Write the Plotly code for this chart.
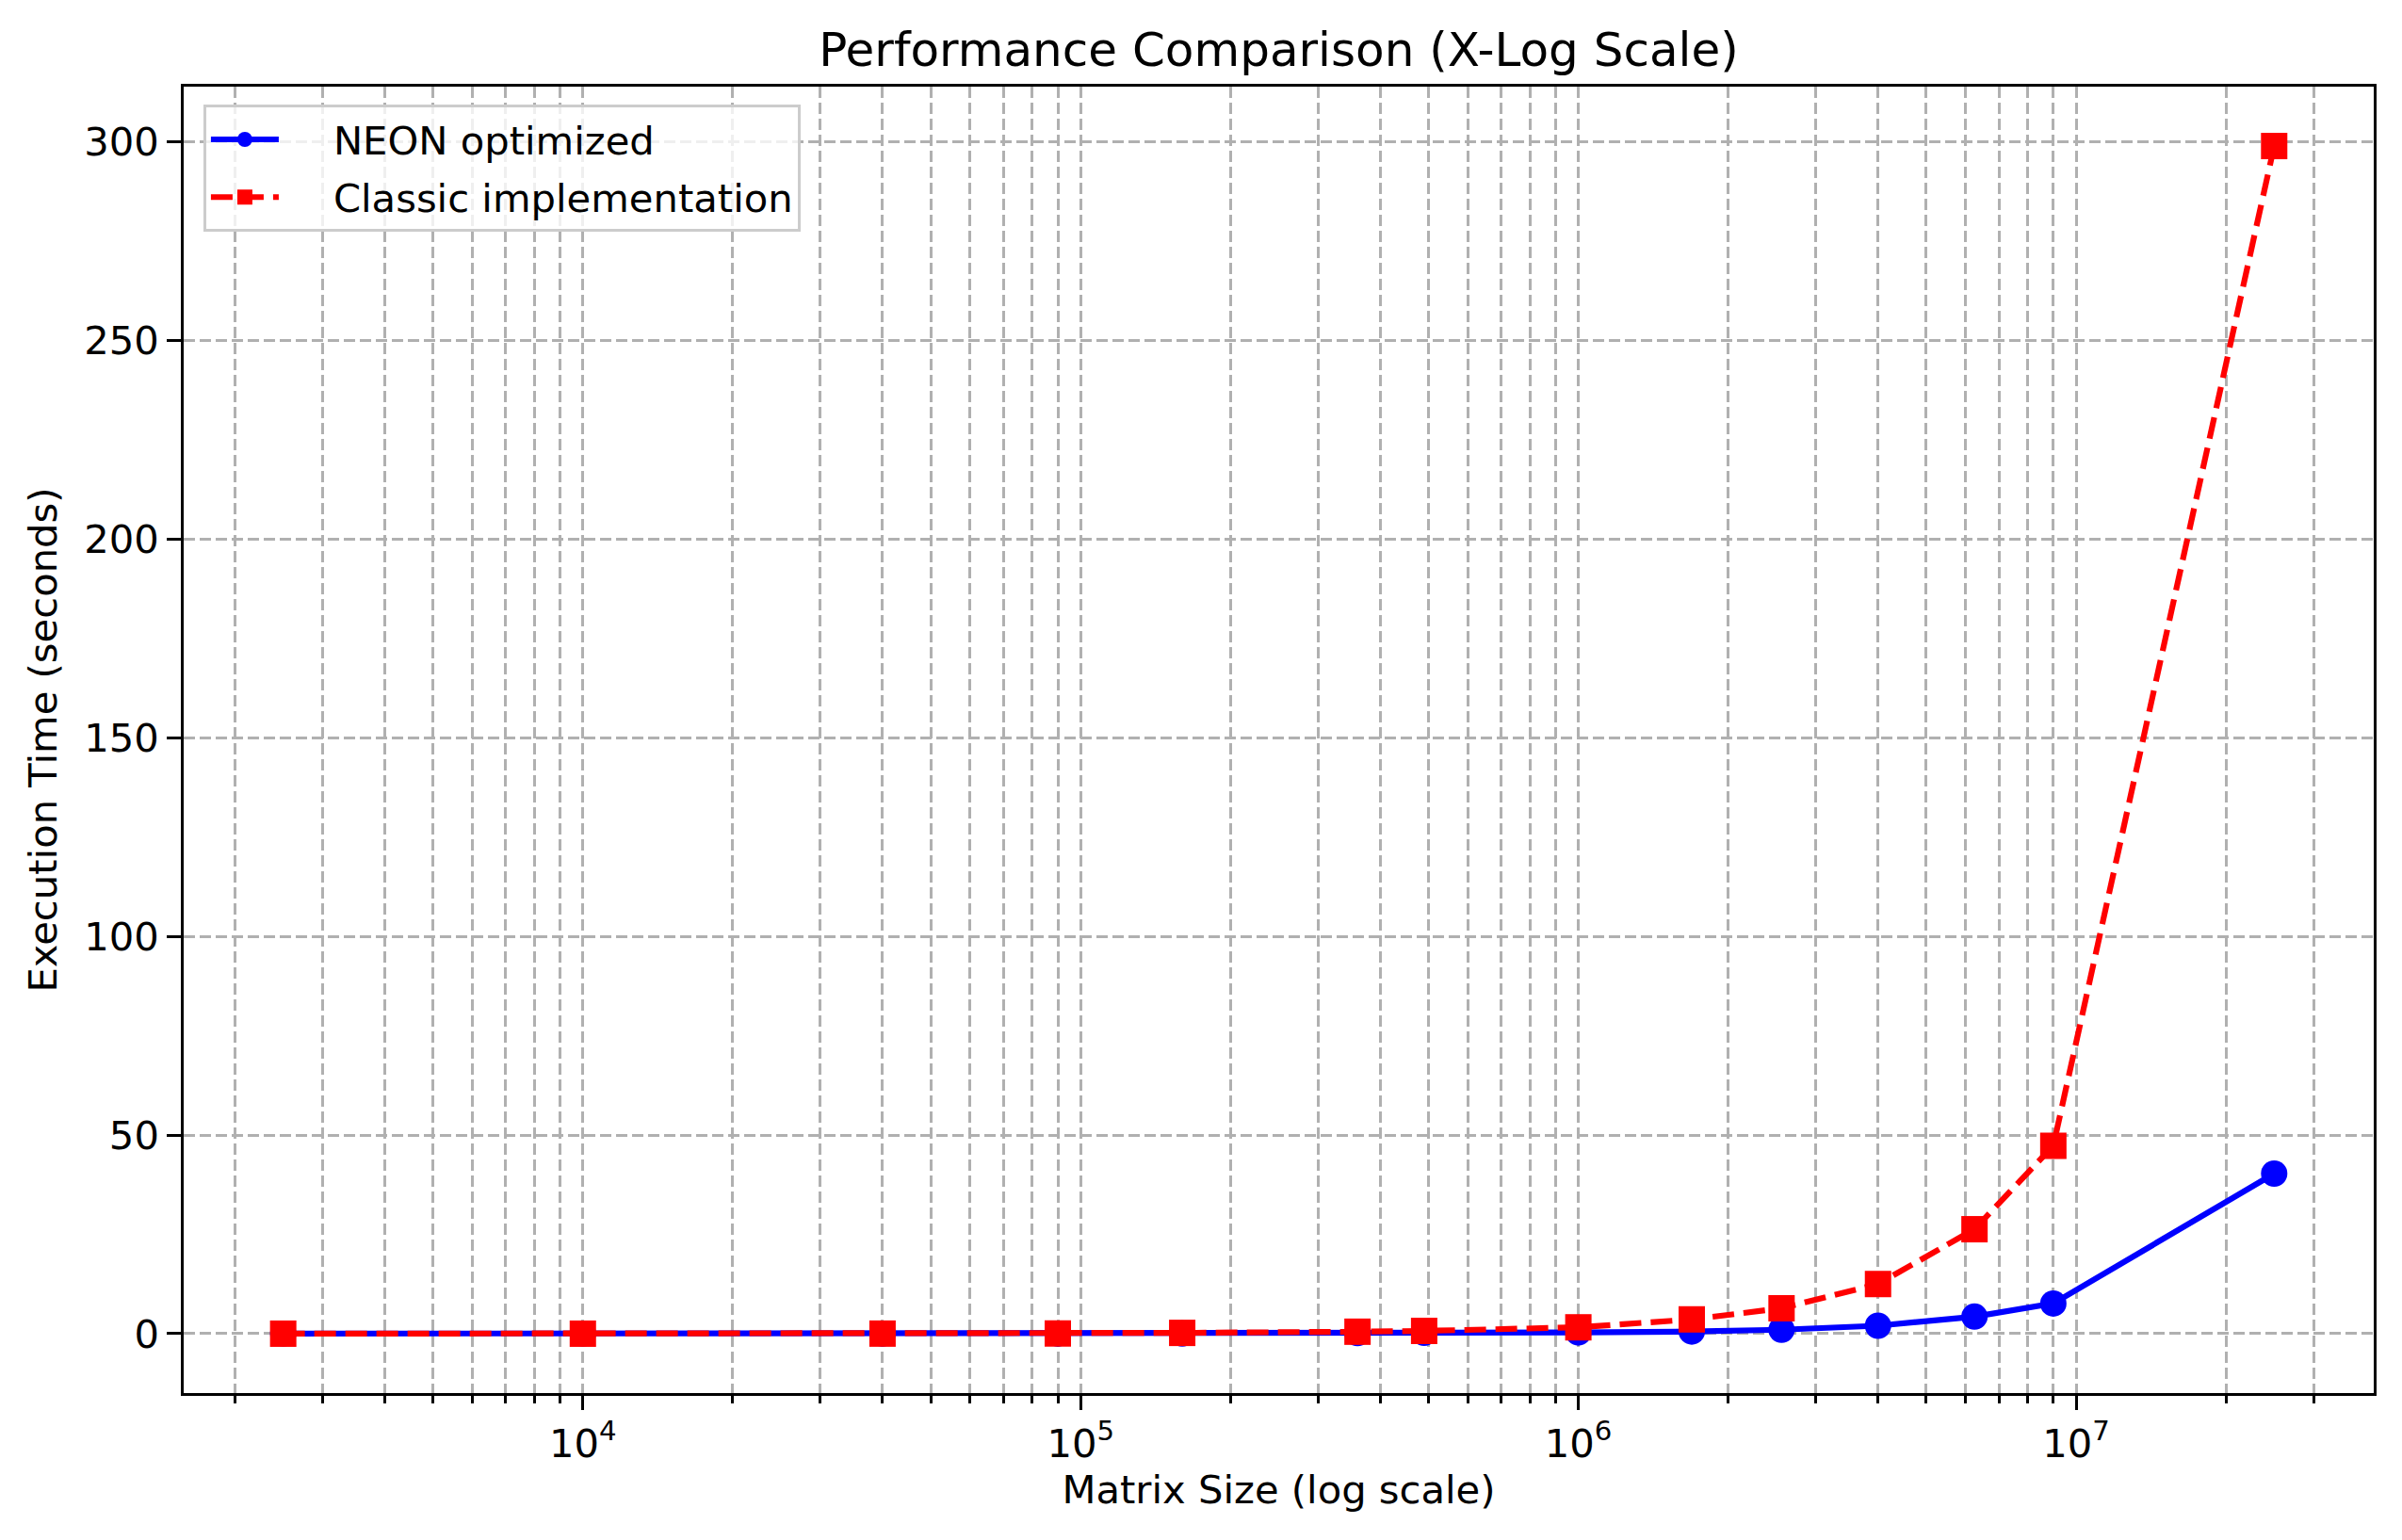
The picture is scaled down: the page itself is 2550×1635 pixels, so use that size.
import plotly.graph_objects as go

# Data
matrix_size = [2500, 10000, 40000, 90000, 160000, 360000, 490000, 1000000,
               1690000, 2560000, 4000000, 6250000, 9000000, 25000000]
neon_time = [0.0, 0.0, 0.0, 0.0, 0.05, 0.15, 0.2, 0.3, 0.55, 1.0, 2.0, 4.3, 7.6, 40.3]
classic_time = [0.0, 0.0, 0.02, 0.05, 0.2, 0.5, 0.7, 1.6, 3.6, 6.4, 12.5, 26.3, 47.3, 299.0]

x_tickvals = [1e4, 1e5, 1e6, 1e7]
x_ticktext = ["10<sup>4</sup>", "10<sup>5</sup>", "10<sup>6</sup>", "10<sup>7</sup>"]
y_tickvals = [0, 50, 100, 150, 200, 250, 300]
y_ticktext = ["0", "50", "100", "150", "200", "250", "300"]

FONT = "DejaVu Sans"
FS = 41.7
GRID = "#b0b0b0"
PAD = "\u00a0\u00a0\u00a0\u00a0"

fig = go.Figure()
fig.add_trace(go.Scatter(
    x=matrix_size, y=neon_time, mode="lines+markers", name=PAD + "NEON optimized",
    legendgroup="neon",
    line=dict(color="#0000ff", width=6.2),
    marker=dict(symbol="circle", size=28, color="#0000ff", line=dict(width=0)),
))
fig.add_trace(go.Scatter(
    x=matrix_size, y=classic_time, mode="lines+markers", name=PAD + "Classic implementation",
    legendgroup="classic",
    line=dict(color="#ff0000", width=6.2, dash="23px,10px"),
    marker=dict(symbol="square", size=28, color="#ff0000", line=dict(width=0)),
))

W, H = 2542, 1627  # page body has an 8px margin
fig.update_layout(
    width=W, height=H, autosize=False,
    margin=dict(l=187, r=30, t=84, b=156),
    paper_bgcolor="white", plot_bgcolor="white",
    font=dict(family=FONT, size=FS, color="black"),
    title=dict(text="Performance Comparison (X-Log Scale)", x=0.5, xref="paper",
               y=1 - 44 / H, yref="container", xanchor="center", yanchor="middle",
               font=dict(size=50, family=FONT, color="black")),
    legend=dict(x=0.009, y=0.986, xanchor="left", yanchor="top",
                bgcolor="rgba(255,255,255,0.8)", bordercolor="#cccccc", borderwidth=3,
                font=dict(size=FS, family=FONT), itemwidth=72, tracegroupgap=4),
    showlegend=True,
)

fig.update_xaxes(
    type="log", range=[3.198, 7.598],
    tickvals=x_tickvals, ticktext=x_ticktext,
    ticks="outside", ticklen=14.6, tickwidth=3.3, tickcolor="black",
    showline=True, linecolor="black", linewidth=3.3, mirror=True,
    showgrid=True, gridcolor=GRID, gridwidth=3.3, griddash="12px,5px",
    zeroline=False,
    minor=dict(dtick="D1", ticks="outside", ticklen=8.3, tickwidth=2.5, tickcolor="black",
               showgrid=True, gridcolor=GRID, gridwidth=3.3, griddash="12px,5px"),
    title=dict(text="Matrix Size (log scale)", font=dict(size=FS, family=FONT), standoff=11),
    tickfont=dict(size=FS, family=FONT),
)
fig.update_yaxes(
    range=[-14.95, 313.95],
    tickvals=y_tickvals, ticktext=y_ticktext,
    ticks="outside", ticklen=14.6, tickwidth=3.3, tickcolor="black",
    showline=True, linecolor="black", linewidth=3.3, mirror=True,
    showgrid=True, gridcolor=GRID, gridwidth=3.3, griddash="12px,5px",
    zeroline=False,
    title=dict(text="Execution Time (seconds)", font=dict(size=FS, family=FONT), standoff=16),
    tickfont=dict(size=FS, family=FONT),
)

fig.write_html("out.html")
